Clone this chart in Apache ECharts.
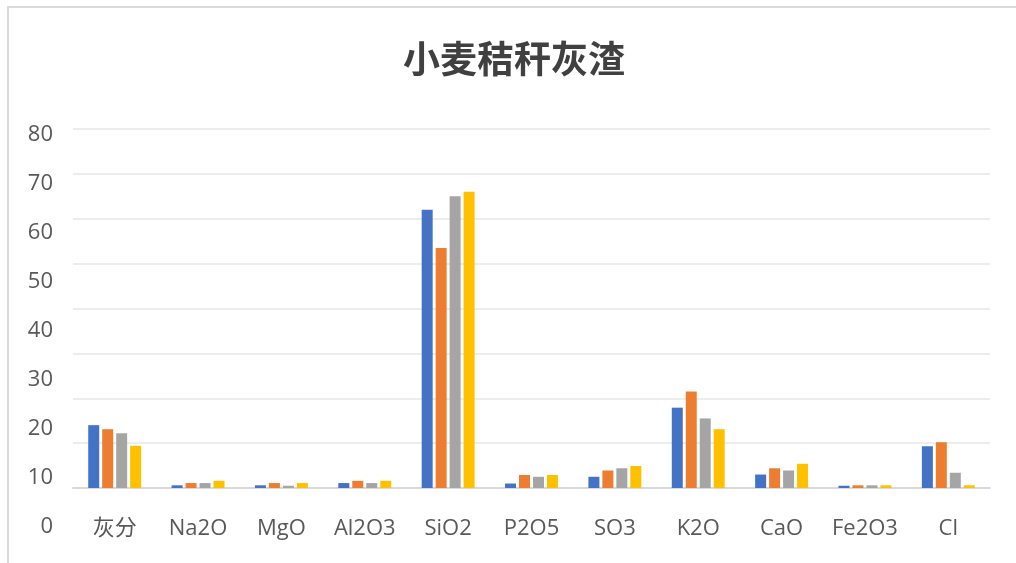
<!DOCTYPE html>
<html><head><meta charset="utf-8">
<script src="https://cdn.jsdelivr.net/npm/echarts@6/dist/echarts.min.js"></script>
<style>
html,body{margin:0;padding:0;background:#fff;}
#frame{position:absolute;left:7px;top:6px;width:1100px;height:700px;border-left:2px solid #dadada;border-top:2px solid #dadada;}
#chart{position:absolute;left:0;top:0;width:1016px;height:563px;}
</style></head>
<body>
<div id="frame"></div>
<div id="chart"></div>
<script>
const categories = ['灰分','Na2O','MgO','Al2O3','SiO2','P2O5','SO3','K2O','CaO','Fe2O3','Cl'];
const series1 = [14.0, 0.6, 0.6, 1.1, 62.0, 1.0, 2.5, 17.9, 3.0, 0.5, 9.3];
const series2 = [13.1, 1.1, 1.1, 1.6, 53.5, 2.9, 3.9, 21.5, 4.4, 0.6, 10.2];
const series3 = [12.2, 1.1, 0.5, 1.1, 65.0, 2.5, 4.4, 15.5, 3.9, 0.6, 3.4];
const series4 = [9.4, 1.6, 1.1, 1.6, 66.0, 2.9, 4.9, 13.1, 5.4, 0.6, 0.6];
const yTicks = [0, 10, 20, 30, 40, 50, 60, 70, 80];
const colors = ['#4472C4', '#ED7D31', '#A5A5A5', '#FFC000'];

const font = '"Open Sans","Noto Sans CJK SC",sans-serif';
const chart = echarts.init(document.getElementById('chart'), null, {renderer:'canvas'});
const yMin = yTicks[0], yMax = yTicks[yTicks.length-1], yStep = yTicks[1]-yTicks[0];
const mk = (name, data, c) => ({
  name, type:'bar', data, xAxisIndex:0, yAxisIndex:0,
  barWidth:11, barGap:'27%',
  itemStyle:{color:c}
});
chart.setOption({
  animation:false,
  title:{text:'小麦秸秆灰渣', left:398, top:35,
    textStyle:{fontFamily:'"Noto Sans CJK SC",sans-serif', fontSize:37, fontWeight:'bold', color:'#404040'}},
  grid:[
    {left:73, right:26, top:129, bottom:75},
    {left:73, right:26, top:135, bottom:36}
  ],
  xAxis:[
    {type:'category', data:categories, gridIndex:0,
      axisLine:{lineStyle:{color:'#d9d9d9', width:2}}, axisTick:{show:false},
      axisLabel:{interval:0, fontFamily:font, fontSize:22, color:'#595959', margin:30}},
    {type:'category', data:categories, gridIndex:1, show:false}
  ],
  yAxis:[
    {type:'value', gridIndex:0, min:yMin, max:yMax, interval:yStep,
      axisLabel:{show:false}, axisLine:{show:false}, axisTick:{show:false},
      splitLine:{lineStyle:{color:'#ededed', width:2}}},
    {type:'value', gridIndex:1, min:yMin, max:yMax, interval:yStep,
      axisLine:{show:false}, axisTick:{show:false}, splitLine:{show:false},
      axisLabel:{fontFamily:font, fontSize:22, color:'#595959', margin:20}}
  ],
  series:[
    mk('系列1', series1, colors[0]),
    mk('系列2', series2, colors[1]),
    mk('系列3', series3, colors[2]),
    mk('系列4', series4, colors[3])
  ]
});
</script>
</body></html>
